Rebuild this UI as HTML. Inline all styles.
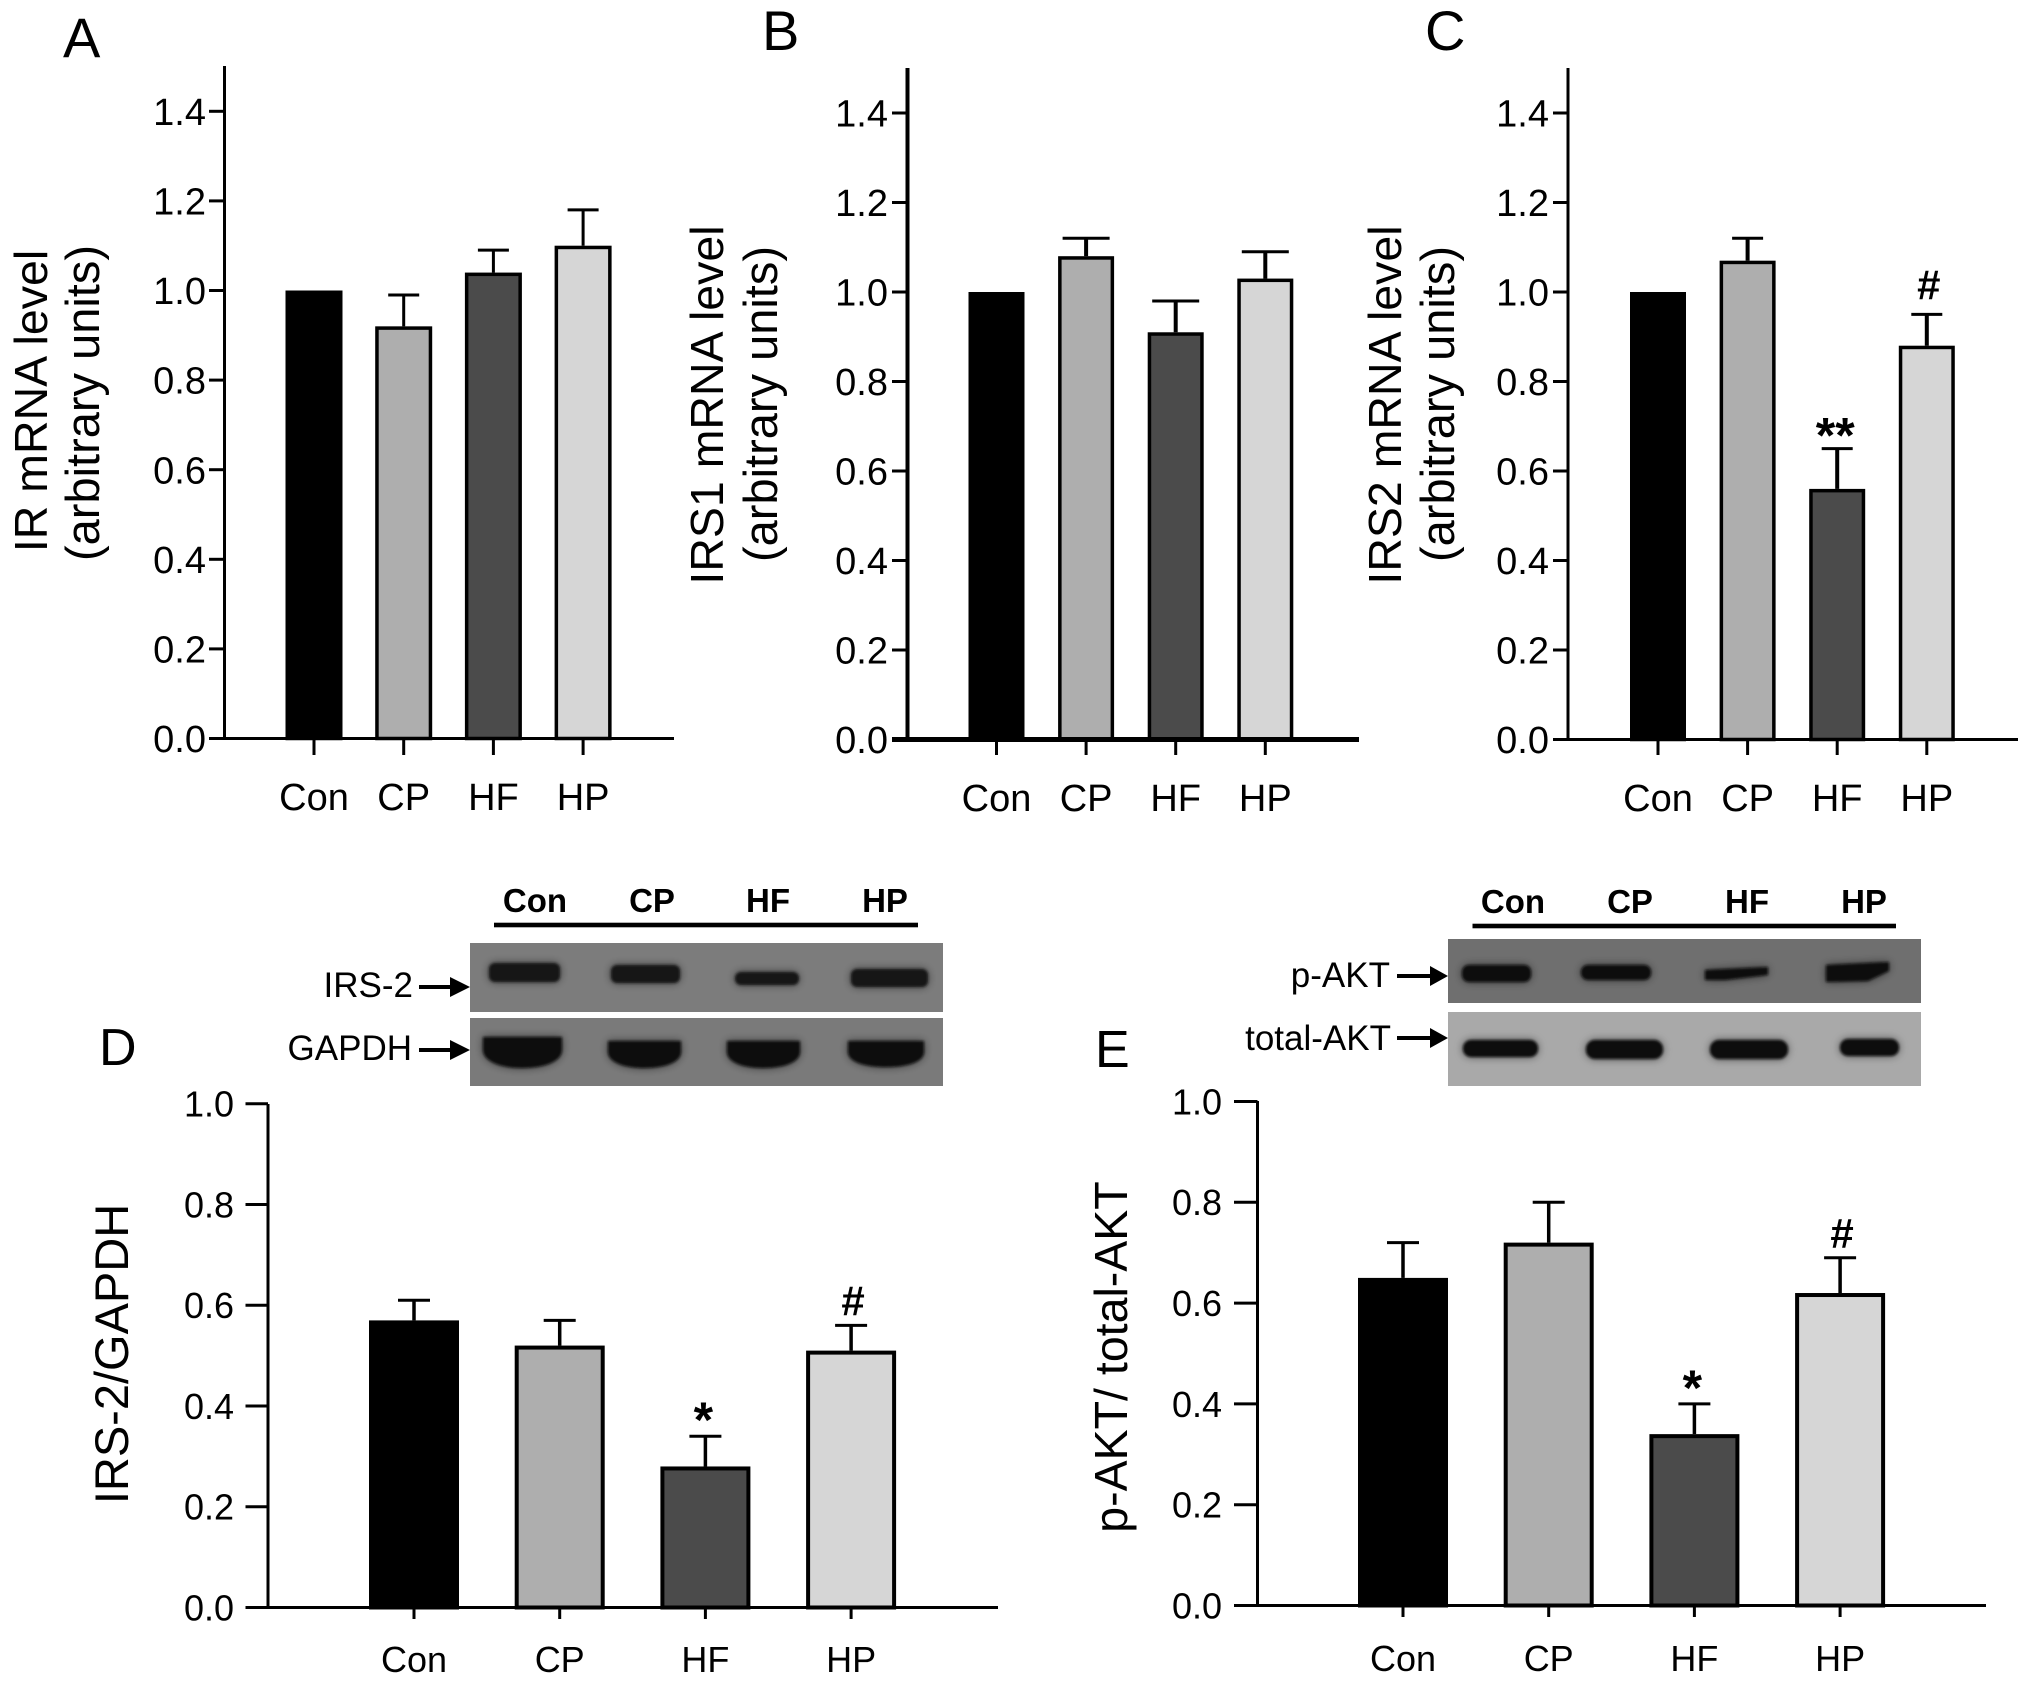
<!DOCTYPE html>
<html lang="en">
<head>
<meta charset="utf-8">
<title>mRNA and protein levels by group</title>
<style>
html,body{margin:0;padding:0;background:#fff;}
svg{display:block;font-family:"Liberation Sans",Arial,sans-serif;}
</style>
</head>
<body>
<svg id="fig" xmlns="http://www.w3.org/2000/svg" width="2031" height="1684" viewBox="0 0 2031 1684">
<defs>
<filter id="b1" x="-30%" y="-120%" width="160%" height="340%">
  <feGaussianBlur in="SourceGraphic" stdDeviation="4.5" result="wide"/>
  <feComponentTransfer in="wide" result="halo"><feFuncA type="linear" slope="0.55"/></feComponentTransfer>
  <feGaussianBlur in="SourceGraphic" stdDeviation="1.4" result="core"/>
  <feMerge><feMergeNode in="halo"/><feMergeNode in="core"/></feMerge>
</filter>
</defs>
<rect x="0" y="0" width="2031" height="1684" fill="#fff"/>

<g>
  <g font-weight="bold" font-size="33" text-anchor="middle">
    <text x="535" y="912">Con</text>
    <text x="652" y="912">CP</text>
    <text x="768" y="912">HF</text>
    <text x="885" y="912">HP</text>
  </g>
  <rect x="494" y="922.7" width="424" height="4.6" fill="#000"/>
  <rect x="470" y="943" width="473" height="69" fill="#7c7c7c"/>
  <rect x="470" y="1018" width="473" height="68" fill="#7a7a7a"/>
  <g fill="#161616" filter="url(#b1)">
    <rect x="489" y="963" width="71" height="19" rx="6"/>
    <rect x="611" y="965" width="69" height="18" rx="6"/>
    <rect x="735" y="972" width="64" height="13" rx="6"/>
    <rect x="851" y="969" width="77" height="18" rx="6"/>
  </g>
  <g fill="#111" filter="url(#b1)">
    <path d="M483 1037H562V1050C562 1061 545 1068 522 1068C500 1068 483 1061 483 1050Z"/>
    <path d="M608 1041H681V1052C681 1062 665 1068 644 1068C624 1068 608 1062 608 1052Z"/>
    <path d="M727 1041H800V1052C800 1062 784 1068 763 1068C743 1068 727 1062 727 1052Z"/>
    <path d="M848 1041H924V1052C924 1062 907 1067 886 1067C865 1067 848 1062 848 1052Z"/>
  </g>
  <text x="413" y="997" font-size="35" text-anchor="end">IRS-2</text>
  <text x="412" y="1060" font-size="35" text-anchor="end">GAPDH</text>
  <g><rect x="419" y="985" width="33" height="4" fill="#000"/><polygon points="450,977 470,987 450,997" fill="#000"/></g>
  <g><rect x="419" y="1048" width="33" height="4" fill="#000"/><polygon points="450,1040 470,1050 450,1060" fill="#000"/></g>
</g>

<g>
  <g font-weight="bold" font-size="33" text-anchor="middle">
    <text x="1513" y="913">Con</text>
    <text x="1630" y="913">CP</text>
    <text x="1747" y="913">HF</text>
    <text x="1864" y="913">HP</text>
  </g>
  <rect x="1472.5" y="923.7" width="423.5" height="4.6" fill="#000"/>
  <rect x="1448" y="939" width="473" height="64" fill="#6f6f6f"/>
  <rect x="1448" y="1012" width="473" height="74" fill="#a9a9a9"/>
  <g fill="#111" filter="url(#b1)">
    <rect x="1462" y="965" width="69" height="17" rx="7"/>
    <rect x="1581" y="965" width="70" height="15" rx="7"/>
    <path d="M1705 970L1768 967V975L1725 980H1705Z"/>
    <path d="M1826 965L1889 962V971L1868 981L1826 982Z"/>
  </g>
  <g fill="#0d0d0d" filter="url(#b1)">
    <rect x="1463" y="1040" width="75" height="17" rx="8"/>
    <rect x="1586" y="1040" width="77" height="19" rx="9"/>
    <rect x="1710" y="1040" width="78" height="19" rx="9"/>
    <rect x="1840" y="1039" width="59" height="17" rx="8"/>
  </g>
  <text x="1390" y="987" font-size="35" text-anchor="end">p-AKT</text>
  <text x="1391" y="1050" font-size="35" text-anchor="end">total-AKT</text>
  <g><rect x="1397" y="974" width="35" height="4" fill="#000"/><polygon points="1430,966 1448,976 1430,986" fill="#000"/></g>
  <g><rect x="1397" y="1036" width="35" height="4" fill="#000"/><polygon points="1430,1028 1448,1038 1430,1048" fill="#000"/></g>
</g>
</svg>

<script>
// ---- chart data ----
const categories = ['Con', 'CP', 'HF', 'HP'];
const ticksUpper = ['0.0', '0.2', '0.4', '0.6', '0.8', '1.0', '1.2', '1.4'];
const ticksLower = ['0.0', '0.2', '0.4', '0.6', '0.8', '1.0'];

const meansA = [1.00, 0.92, 1.04, 1.10];
const errorTopsA = [1.00, 0.99, 1.09, 1.18];
const notesA = ['', '', '', ''];

const meansB = [1.00, 1.08, 0.91, 1.03];
const errorTopsB = [1.00, 1.12, 0.98, 1.09];
const notesB = ['', '', '', ''];

const meansC = [1.00, 1.07, 0.56, 0.88];
const errorTopsC = [1.00, 1.12, 0.65, 0.95];
const notesC = ['', '', '**', '#'];

const meansD = [0.57, 0.52, 0.28, 0.51];
const errorTopsD = [0.61, 0.57, 0.34, 0.56];
const notesD = ['', '', '*', '#'];

const meansE = [0.65, 0.72, 0.34, 0.62];
const errorTopsE = [0.72, 0.80, 0.40, 0.69];
const notesE = ['', '', '*', '#'];

const fills = ['#000000', '#aeaeae', '#4b4b4b', '#d6d6d6'];

// ---- drawing ----
const NS = 'http://www.w3.org/2000/svg';
const fig = document.getElementById('fig');

function make(tag, attrs, parent, content) {
  const node = document.createElementNS(NS, tag);
  for (const k in attrs) node.setAttribute(k, attrs[k]);
  if (content !== undefined) node.textContent = content;
  parent.appendChild(node);
  return node;
}

function drawPanel(p) {
  const y = v => p.base - v * p.unit;
  const x = i => p.x0 + i * p.step;
  const slug = p.id;

  const g = make('g', {}, fig);
  
  

  const letter = make('text', { x: p.letterX, y: p.letterY, 'font-size': p.letterSize }, g, p.id.toUpperCase());
  
  

  p.titles.forEach((t, n) => {
    const label = make('text', {
      transform: 'translate(' + t.x + ',' + t.y + ') rotate(-90)',
      'text-anchor': 'middle',
      'font-size': t.size
    }, g, t.text);
    
    
  });

  // bars
  categories.forEach((cat, i) => {
    const top = y(p.means[i]);
    const sw = p.barStroke;
    if (p.errs[i] > p.means[i]) {
      const stem = make('line', { x1: x(i), x2: x(i), y1: top, y2: y(p.errs[i]), stroke: '#000', 'stroke-width': p.errStroke }, g);
      
      
      const cap = make('line', { x1: x(i) - p.cap / 2, x2: x(i) + p.cap / 2, y1: y(p.errs[i]), y2: y(p.errs[i]), stroke: '#000', 'stroke-width': p.capStroke }, g);
      
      
    }
    const bar = make('rect', {
      x: x(i) - p.barW / 2 + sw / 2,
      y: top + sw / 2,
      width: p.barW - sw,
      height: p.base - top - sw / 2,
      fill: fills[i],
      stroke: '#000',
      'stroke-width': sw
    }, g);
    
    

    const tick = make('line', { x1: x(i), x2: x(i), y1: p.base, y2: p.tickBottom, stroke: '#000', 'stroke-width': p.tickStroke }, g);
    
    

    const lab = make('text', { x: x(i), y: p.labelY, 'text-anchor': 'middle', 'font-size': p.fontSize }, g, cat);
    
    

    if (p.notes[i]) {
      const isHash = p.notes[i] === '#';
      const fs = isHash ? 42 : 50;
      const cy = y(p.errs[i]) - (isHash ? p.hashGap : p.starGap);
      const base = cy + (isHash ? 0.34 : 0.56) * fs;
      const note = make('text', { x: x(i) + (isHash ? 2 : -2), y: base, 'text-anchor': 'middle', 'font-size': fs, 'font-weight': 'bold' }, g, p.notes[i]);
      
      
    }
  });

  // axes
  const yAxis = make('line', { x1: p.axisX, x2: p.axisX, y1: p.top, y2: p.base + p.axisStroke / 2, stroke: '#000', 'stroke-width': p.axisStroke }, g);
  
  
  const xAxis = make('line', { x1: p.tickLeft, x2: p.xEnd, y1: p.base, y2: p.base, stroke: '#000', 'stroke-width': p.baseStroke }, g);
  
  

  p.ticks.forEach(t => {
    const v = parseFloat(t);
    const tick = make('line', { x1: p.tickLeft, x2: p.axisX, y1: y(v), y2: y(v), stroke: '#000', 'stroke-width': p.tickStroke }, g);
    
    
    const lab = make('text', { x: p.labelRight, y: y(v) + 0.358 * p.fontSize, 'text-anchor': 'end', 'font-size': p.fontSize }, g, t);
    
    
  });
}

drawPanel({
  id: 'a', means: meansA, errs: errorTopsA, notes: notesA, ticks: ticksUpper,
  axisX: 224.5, top: 66, base: 738.5, unit: 448, tickLeft: 209, tickBottom: 755, xEnd: 674,
  x0: 314, step: 89.7, barW: 57, cap: 31, labelY: 810, labelRight: 206, fontSize: 38, hashGap: 24, starGap: 24,
  axisStroke: 3, baseStroke: 3, tickStroke: 3, barStroke: 3.5, errStroke: 3, capStroke: 3,
  letterX: 63, letterY: 57, letterSize: 56,
  titles: [
    { text: 'IR mRNA level', x: 47, y: 401, size: 46.5 },
    { text: '(arbitrary units)', x: 99, y: 403, size: 47 }
  ]
});

drawPanel({
  id: 'b', means: meansB, errs: errorTopsB, notes: notesB, ticks: ticksUpper,
  axisX: 907.5, top: 68, base: 739.5, unit: 447.5, tickLeft: 892, tickBottom: 755, xEnd: 1359,
  x0: 996.5, step: 89.6, barW: 56, cap: 47, labelY: 811, labelRight: 888, fontSize: 38, hashGap: 24, starGap: 24,
  axisStroke: 4, baseStroke: 5, tickStroke: 3, barStroke: 3.5, errStroke: 4, capStroke: 3,
  letterX: 762, letterY: 50, letterSize: 56,
  titles: [
    { text: 'IRS1 mRNA level', x: 723, y: 405, size: 46.5 },
    { text: '(arbitrary units)', x: 777, y: 404, size: 47 }
  ]
});

drawPanel({
  id: 'c', means: meansC, errs: errorTopsC, notes: notesC, ticks: ticksUpper,
  axisX: 1568, top: 68, base: 739.5, unit: 447.5, tickLeft: 1553, tickBottom: 755, xEnd: 2018,
  x0: 1658, step: 89.6, barW: 56, cap: 31, labelY: 811, labelRight: 1549, fontSize: 38, hashGap: 29, starGap: 24,
  axisStroke: 3, baseStroke: 3, tickStroke: 3, barStroke: 3.5, errStroke: 4, capStroke: 3,
  letterX: 1425, letterY: 50, letterSize: 56,
  titles: [
    { text: 'IRS2 mRNA level', x: 1401, y: 405, size: 46.5 },
    { text: '(arbitrary units)', x: 1454, y: 404, size: 47 }
  ]
});

drawPanel({
  id: 'd', means: meansD, errs: errorTopsD, notes: notesD, ticks: ticksLower,
  axisX: 268, top: 1104, base: 1607.5, unit: 503.7, tickLeft: 245.5, tickBottom: 1619, xEnd: 998,
  x0: 414, step: 145.7, barW: 90, cap: 32, labelY: 1672, labelRight: 234, fontSize: 36, hashGap: 24, starGap: 27,
  axisStroke: 3, baseStroke: 3, tickStroke: 3, barStroke: 4, errStroke: 3.5, capStroke: 3,
  letterX: 99, letterY: 1065, letterSize: 52,
  titles: [
    { text: 'IRS-2/GAPDH', x: 128, y: 1354, size: 47 }
  ]
});

drawPanel({
  id: 'e', means: meansE, errs: errorTopsE, notes: notesE, ticks: ticksLower,
  axisX: 1257.5, top: 1101, base: 1605.5, unit: 504, tickLeft: 1234, tickBottom: 1617, xEnd: 1986,
  x0: 1403, step: 145.7, barW: 90, cap: 32, labelY: 1671, labelRight: 1222, fontSize: 36, hashGap: 24, starGap: 27,
  axisStroke: 3, baseStroke: 3, tickStroke: 3, barStroke: 4, errStroke: 3.5, capStroke: 3,
  letterX: 1095, letterY: 1067, letterSize: 52,
  titles: [
    { text: 'p-AKT/ total-AKT', x: 1127, y: 1357, size: 46.5 }
  ]
});
</script>
</body>
</html>
